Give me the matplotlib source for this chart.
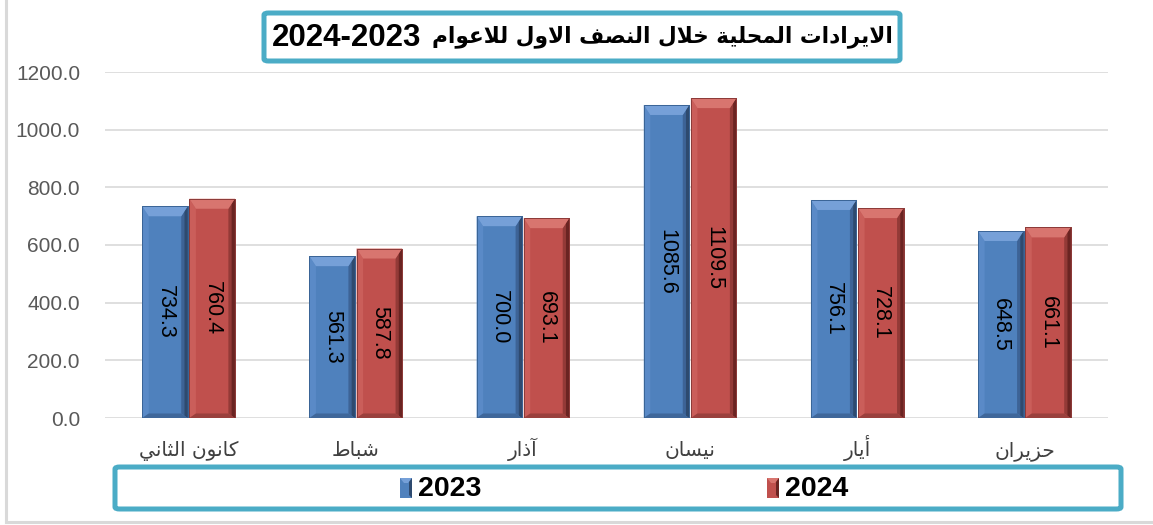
import matplotlib
matplotlib.use("Agg")
import matplotlib.pyplot as plt
from matplotlib.patches import Polygon, FancyBboxPatch, Rectangle
from matplotlib.lines import Line2D
import numpy as np

# ---------------- data ----------------
categories = ["كانون الثاني", "شباط", "آذار", "نيسان", "أيار", "حزيران"]
values_2023 = [734.3, 561.3, 700.0, 1085.6, 756.1, 648.5]
values_2024 = [760.4, 587.8, 693.1, 1109.5, 728.1, 661.1]
series_names = ["2023", "2024"]
title_ar = "الايرادات المحلية خلال النصف الاول للاعوام"
title_years = "2024-2023"
y_ticks = [0, 200, 400, 600, 800, 1000, 1200]

# ---------------- minimal Arabic shaping (contextual forms + RTL order) ----------------
FORMS = {
    'ا': (0xFE8D, 0xFE8E, None, None),
    'أ': (0xFE83, 0xFE84, None, None),
    'آ': (0xFE81, 0xFE82, None, None),
    'ب': (0xFE8F, 0xFE90, 0xFE91, 0xFE92),
    'ة': (0xFE93, 0xFE94, None, None),
    'ت': (0xFE95, 0xFE96, 0xFE97, 0xFE98),
    'ث': (0xFE99, 0xFE9A, 0xFE9B, 0xFE9C),
    'ح': (0xFEA1, 0xFEA2, 0xFEA3, 0xFEA4),
    'خ': (0xFEA5, 0xFEA6, 0xFEA7, 0xFEA8),
    'د': (0xFEA9, 0xFEAA, None, None),
    'ذ': (0xFEAB, 0xFEAC, None, None),
    'ر': (0xFEAD, 0xFEAE, None, None),
    'ز': (0xFEAF, 0xFEB0, None, None),
    'س': (0xFEB1, 0xFEB2, 0xFEB3, 0xFEB4),
    'ش': (0xFEB5, 0xFEB6, 0xFEB7, 0xFEB8),
    'ص': (0xFEB9, 0xFEBA, 0xFEBB, 0xFEBC),
    'ط': (0xFEC1, 0xFEC2, 0xFEC3, 0xFEC4),
    'ع': (0xFEC9, 0xFECA, 0xFECB, 0xFECC),
    'ف': (0xFED1, 0xFED2, 0xFED3, 0xFED4),
    'ك': (0xFED9, 0xFEDA, 0xFEDB, 0xFEDC),
    'ل': (0xFEDD, 0xFEDE, 0xFEDF, 0xFEE0),
    'م': (0xFEE1, 0xFEE2, 0xFEE3, 0xFEE4),
    'ن': (0xFEE5, 0xFEE6, 0xFEE7, 0xFEE8),
    'و': (0xFEED, 0xFEEE, None, None),
    'ي': (0xFEF1, 0xFEF2, 0xFEF3, 0xFEF4),
}
LAMALEF = {'ا': (0xFEFB, 0xFEFC), 'أ': (0xFEF7, 0xFEF8), 'آ': (0xFEF5, 0xFEF6)}


def shape_ar(text):
    toks = []
    i = 0
    while i < len(text):
        c = text[i]
        if c == 'ل' and i + 1 < len(text) and text[i + 1] in LAMALEF:
            toks.append(('LA', text[i + 1]))
            i += 2
        else:
            toks.append((c, None))
            i += 1

    def dual(t):
        return t in FORMS and FORMS[t][2] is not None

    def arabic(t):
        return t in FORMS or t == 'LA'

    out = []
    for k, (c, a) in enumerate(toks):
        prev = toks[k - 1][0] if k > 0 else None
        nxt = toks[k + 1][0] if k + 1 < len(toks) else None
        jp = prev is not None and dual(prev)
        if c == 'LA':
            iso, fin = LAMALEF[a]
            out.append(chr(fin if jp else iso))
            continue
        if c not in FORMS:
            out.append(c)
            continue
        iso, fin, ini, med = FORMS[c]
        jn = ini is not None and nxt is not None and arabic(nxt)
        if jp and jn:
            out.append(chr(med))
        elif jp:
            out.append(chr(fin))
        elif jn:
            out.append(chr(ini))
        else:
            out.append(chr(iso))
    return ''.join(out)[::-1]


# ---------------- figure ----------------
W, H, DPI = 1153, 525, 100
fig = plt.figure(figsize=(W / DPI, H / DPI), dpi=DPI)
fig.patch.set_facecolor("white")

def fx(px):
    return px / W

def fy(py):
    return 1 - py / H

ax_l, ax_r, ax_t, ax_b = 105, 1108, 72, 418
ax = fig.add_axes([fx(ax_l), fy(ax_b), fx(ax_r - ax_l), (ax_b - ax_t) / H])
ax.set_xlim(-0.5, len(categories) - 0.5)
ax.set_ylim(0, 1200)
for s in ax.spines.values():
    s.set_visible(False)
ax.set_yticks(y_ticks)
ax.set_yticklabels([f"{v:.1f}" for v in y_ticks], fontsize=15, color="#595959",
                   family=["Liberation Sans", "DejaVu Sans"])
ax.tick_params(axis="y", length=0, pad=18)
ax.tick_params(axis="x", length=0, pad=27.5)
ax.set_xticks(range(len(categories)))
ax.set_xticklabels([shape_ar(c) for c in categories], fontsize=14.5, color="#404040",
                   family=["DejaVu Sans"], va="baseline")
ax.yaxis.grid(True, color="#D9D9D9", lw=1.2)
ax.set_axisbelow(True)

x = np.arange(len(categories))
bw = 0.272
off = 0.141
bars1 = ax.bar(x - off, values_2023, bw, color="#4F81BD", edgecolor="#3A6496", lw=0.6, zorder=2)
bars2 = ax.bar(x + off, values_2024, bw, color="#C0504D", edgecolor="#8C3A38", lw=0.6, zorder=2)

STYLE = {
    "blue": dict(top="#76A0D8", left="#5A8AC7", right="#2E4A6F", right2="#3D6396", bottom="#3F679A"),
    "red": dict(top="#D8756F", left="#CA5E5A", right="#6A2422", right2="#933A37", bottom="#9A403D"),
}


def bevel(bar, st):
    x0, y0 = bar.get_x(), bar.get_y()
    x1, y1 = x0 + bar.get_width(), y0 + bar.get_height()
    T = ax.transData
    (px0, py0), (px1, py1) = T.transform([(x0, y0), (x1, y1)])
    inv = T.inverted()
    bh, bt, bb = 6.5, 10.0, 4.5

    def poly(pts, c, z=3):
        d = inv.transform(pts)
        ax.add_patch(Polygon(d, closed=True, facecolor=c, edgecolor="none", zorder=z))

    poly([(px0, py0), (px0 + bh, py0 + bb), (px0 + bh, py1 - bt), (px0, py1)], st["left"])
    poly([(px1, py0), (px1 - bh, py0 + bb), (px1 - bh, py1 - bt), (px1, py1)], st["right2"])
    poly([(px1, py0), (px1 - bh * 0.5, py0 + bb * 0.5), (px1 - bh * 0.5, py1 - bt * 0.5), (px1, py1)], st["right"])
    poly([(px0, py0), (px1, py0), (px1 - bh, py0 + bb), (px0 + bh, py0 + bb)], st["bottom"])
    poly([(px0, py1), (px1, py1), (px1 - bh, py1 - bt), (px0 + bh, py1 - bt)], st["top"])
    d = inv.transform([(px0, py0), (px1, py0), (px1, py1), (px0, py1)])
    ax.add_patch(Polygon(d, closed=True, facecolor="none", edgecolor=bar.get_edgecolor(), lw=0.7, zorder=4))


for b in bars1:
    bevel(b, STYLE["blue"])
for b in bars2:
    bevel(b, STYLE["red"])

for bars, vals in ((bars1, values_2023), (bars2, values_2024)):
    for b, v in zip(bars, vals):
        ax.text(b.get_x() + b.get_width() / 2, v / 2, f"{v:.1f}", rotation=270,
                ha="center", va="center", fontsize=15.5, color="black",
                family=["Liberation Sans", "DejaVu Sans"], zorder=5)

# ---------------- outer border ----------------
fig.add_artist(Line2D([fx(5.5), fx(5.5)], [fy(0), fy(522)], color="#D9D9D9", lw=2.2))
fig.add_artist(Line2D([fx(5.5), fx(1153)], [fy(522), fy(522)], color="#D9D9D9", lw=2.2))

# ---------------- title box ----------------
teal = "#4BACC6"
fig.add_artist(FancyBboxPatch((fx(264), fy(61)), fx(900 - 264), (61 - 13) / H,
                              boxstyle="round,pad=0,rounding_size=0.004",
                              transform=fig.transFigure, facecolor="white",
                              edgecolor=teal, lw=3.6))
fig.text(fx(272), fy(38), title_years, ha="left", va="center",
         fontsize=22.5, fontweight="bold", color="black",
         family=["Liberation Sans", "DejaVu Sans"])
fig.text(fx(893), fy(37), shape_ar(title_ar), ha="right", va="center",
         fontsize=15.6, fontweight="bold", color="black",
         family=["DejaVu Sans"])

# ---------------- legend box ----------------
fig.add_artist(FancyBboxPatch((fx(115), fy(509)), fx(1121 - 115), (509 - 467) / H,
                              boxstyle="round,pad=0,rounding_size=0.004",
                              transform=fig.transFigure, facecolor="white",
                              edgecolor=teal, lw=3.6))


def legend_icon(x0, color, top, right):
    y_top, y_bot = 478, 498
    fig.add_artist(Rectangle((fx(x0), fy(y_bot)), fx(12), (y_bot - y_top) / H,
                             transform=fig.transFigure, facecolor=color, edgecolor="none"))
    fig.add_artist(Polygon([(fx(x0), fy(y_top)), (fx(x0 + 12), fy(y_top)),
                            (fx(x0 + 8), fy(y_top + 5)), (fx(x0 + 4), fy(y_top + 5))],
                           closed=True, transform=fig.transFigure, facecolor=top, edgecolor="none"))
    fig.add_artist(Polygon([(fx(x0 + 12), fy(y_top)), (fx(x0 + 12), fy(y_bot)),
                            (fx(x0 + 9), fy(y_bot - 3)), (fx(x0 + 9), fy(y_top + 4))],
                           closed=True, transform=fig.transFigure, facecolor=right, edgecolor="none"))


legend_icon(400, "#4F81BD", STYLE["blue"]["top"], STYLE["blue"]["right"])
legend_icon(767, "#C0504D", STYLE["red"]["top"], STYLE["red"]["right"])
fig.text(fx(418), fy(489), series_names[0], ha="left", va="center", fontsize=20.5,
         fontweight="bold", family=["Liberation Sans", "DejaVu Sans"])
fig.text(fx(785), fy(489), series_names[1], ha="left", va="center", fontsize=20.5,
         fontweight="bold", family=["Liberation Sans", "DejaVu Sans"])

fig.savefig("out.png", dpi=DPI, facecolor="white")
